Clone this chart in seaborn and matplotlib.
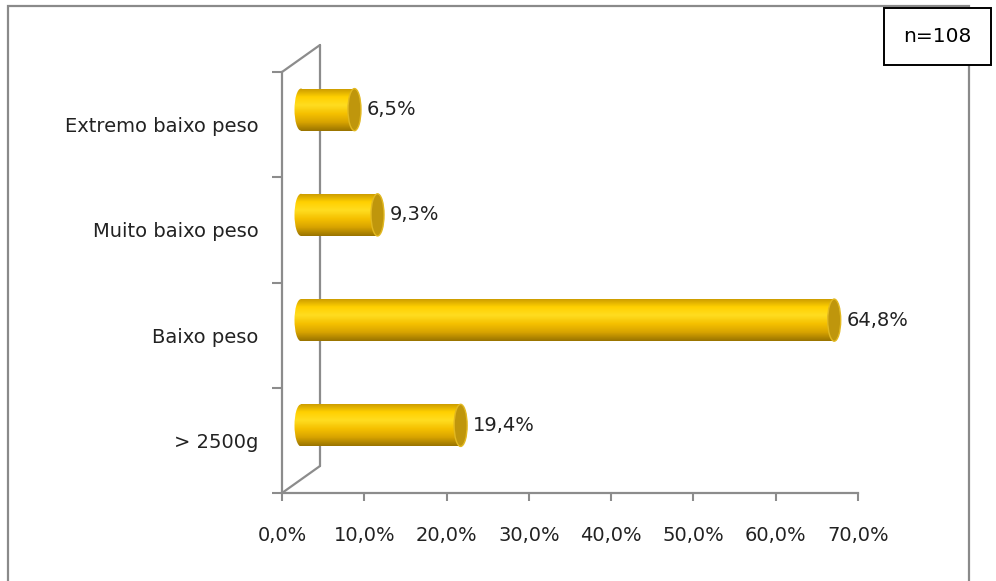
import numpy as np
import matplotlib
matplotlib.use("Agg")
import matplotlib.pyplot as plt
from matplotlib.patches import Ellipse, Rectangle
from matplotlib.lines import Line2D
from matplotlib.colors import LinearSegmentedColormap
import matplotlib.transforms as mtransforms
import seaborn as sns

categories = ["Extremo baixo peso", "Muito baixo peso", "Baixo peso", "> 2500g"]
values = [6.5, 9.3, 64.8, 19.4]
x_ticks = [0, 10, 20, 30, 40, 50, 60, 70]
n_label = "n=108"

sns.set_style("white")
plt.rcParams["font.family"] = ["DejaVu Sans"]

W, H = 996, 581
fig = plt.figure(figsize=(W / 100, H / 100), dpi=100)

def px_box(x0, y_top, x1, y_bot):
    return [x0 / W, 1 - y_bot / H, (x1 - x0) / W, (y_bot - y_top) / H]

# front axis (ticks, labels)
ax = fig.add_axes(px_box(282, 72, 858, 493))
ax.set_xlim(0, 70)
ax.set_ylim(3.5, -0.5)
ax.set_facecolor("none")
grey = "#8c8c8c"
for s in ["top", "right"]:
    ax.spines[s].set_visible(False)
for s in ["left", "bottom"]:
    ax.spines[s].set_color(grey)
    ax.spines[s].set_linewidth(1.6)
ax.set_xticks(x_ticks)
ax.set_xticklabels([f"{t:.1f}".replace(".", ",") + "%" for t in x_ticks], fontsize=14)
ax.tick_params(axis="x", bottom=True, direction="out", length=6, width=1.5,
               color=grey, pad=18, labelcolor="#222222")
ax.set_yticks([-0.5, 0.5, 1.5, 2.5, 3.5])
ax.set_yticklabels([])
ax.tick_params(axis="y", which="major", left=True, direction="out", length=7,
               width=1.5, color=grey)
ax.set_yticks(range(len(categories)), minor=True)
ax.set_yticklabels(categories, minor=True, fontsize=14)
ax.tick_params(axis="y", which="minor", left=True, length=0, pad=17,
               labelcolor="#222222")

# back wall lines (3D depth), drawn behind the bars
off = mtransforms.offset_copy(ax.transAxes, fig=fig, x=38, y=27, units="dots")
wall = [(ax.transAxes.transform((0, 1)), off.transform((0, 1))),
        (off.transform((0, 1)), off.transform((0, 0))),
        (ax.transAxes.transform((0, 0)), off.transform((0, 0)))]
for p0, p1 in wall:
    fig.add_artist(Line2D([p0[0] / W, p1[0] / W], [p0[1] / H, p1[1] / H],
                          transform=fig.transFigure, color=grey, lw=1.6,
                          zorder=-1))

# bars axis, shifted half depth
scale = 576 / 70
xmin = -2
axb = fig.add_axes(px_box(301 + xmin * scale, 72 - 15, 301 + 70 * scale, 493 - 15))
sns.barplot(x=values, y=categories, orient="h", ax=axb, width=0.4,
            color="#F5C400", linewidth=0)
axb.set_xlim(xmin, 70)
axb.set_ylim(3.5, -0.5)
axb.axis("off")
axb.set_facecolor("none")

cmap = LinearSegmentedColormap.from_list(
    "gold", ["#C89800", "#FFD000", "#FFDD20", "#F5C000", "#D8A400", "#9A7400"])
grad = np.linspace(0, 1, 64).reshape(-1, 1)
cap_w = 13 / scale

for patch, v in zip(list(axb.patches), values):
    x0, y0 = patch.get_x(), patch.get_y()
    w, h = patch.get_width(), patch.get_height()
    patch.set_facecolor("none")
    yc = y0 + h / 2
    im = axb.imshow(grad, cmap=cmap, aspect="auto", origin="upper",
                    extent=(x0 - cap_w, x0 + w, y0 + h, y0), zorder=2)
    clip_rect = Rectangle((x0, y0), w, h, facecolor="none", edgecolor="none")
    axb.add_patch(clip_rect)
    im.set_clip_path(clip_rect)
    im2 = axb.imshow(grad, cmap=cmap, aspect="auto", origin="upper",
                     extent=(x0 - cap_w, x0 + w, y0 + h, y0), zorder=2)
    left = Ellipse((x0, yc), cap_w, h, facecolor="none", edgecolor="none")
    axb.add_patch(left)
    im2.set_clip_path(left)
    axb.add_patch(Ellipse((x0 + w, yc), cap_w, h, facecolor="#BF960C",
                          edgecolor="#E2B820", lw=1.0, zorder=3))
    axb.annotate(f"{v:.1f}".replace(".", ",") + "%", (x0 + w + cap_w / 2, yc),
                 xytext=(4, 0), textcoords="offset points", va="center",
                 ha="left", fontsize=14, color="#222222")

axb.set_xlim(xmin, 70)
axb.set_ylim(3.5, -0.5)

# chart outer frame
fig.add_artist(Rectangle((8 / W, -0.05), (969 - 8) / W, 1.05 - 6 / H,
                         transform=fig.transFigure, facecolor="none",
                         edgecolor="#8a8a8a", lw=1.6, zorder=-1))
# n box
fig.add_artist(Rectangle((884 / W, 1 - 65 / H), (991 - 884) / W, (65 - 8) / H,
                         transform=fig.transFigure, facecolor="white",
                         edgecolor="black", lw=1.4, zorder=5))
fig.text(937.5 / W, 1 - 37 / H, n_label, ha="center", va="center",
         fontsize=14.5, color="black", zorder=6)

fig.savefig("out.png", dpi=100)
